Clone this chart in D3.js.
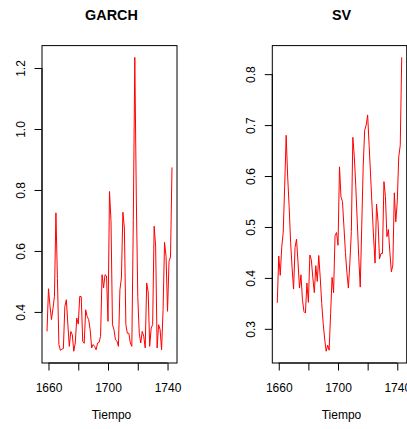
<!DOCTYPE html>
<html>
<head>
<meta charset="utf-8">
<script src="https://cdn.jsdelivr.net/npm/d3@7"></script>
<style>
  html, body { margin: 0; padding: 0; background: #fff; }
  svg { display: block; }
  text { font-family: "Liberation Sans", Arial, Helvetica, sans-serif; fill: #000; }
</style>
</head>
<body>
<svg id="chart" width="407" height="429"></svg>
<script>
// ---------------- DATA ----------------
const startYear = 1659;
const endYear = 1743;
const years = d3.range(startYear, endYear + 1);

const garch = [
  0.336, 0.476, 0.420, 0.375, 0.410, 0.451, 0.725, 0.510, 0.293, 0.274,
  0.278, 0.280, 0.418, 0.440, 0.360, 0.287, 0.336, 0.325, 0.271, 0.298,
  0.380, 0.360, 0.451, 0.450, 0.304, 0.297, 0.407, 0.385, 0.375, 0.342,
  0.282, 0.293, 0.287, 0.276, 0.298, 0.300, 0.320, 0.522, 0.479, 0.522,
  0.518, 0.369, 0.795, 0.700, 0.358, 0.342, 0.309, 0.304, 0.287, 0.473,
  0.511, 0.727, 0.675, 0.358, 0.330, 0.330, 0.298, 0.287, 0.700, 1.235,
  0.780, 0.450, 0.330, 0.298, 0.336, 0.320, 0.282, 0.495, 0.465, 0.287,
  0.347, 0.358, 0.681, 0.616, 0.282, 0.358, 0.342, 0.276, 0.407, 0.628,
  0.582, 0.402, 0.566, 0.580, 0.874
];

const sv = [
  0.351, 0.443, 0.405, 0.460, 0.490, 0.580, 0.680, 0.600, 0.540, 0.470,
  0.420, 0.378, 0.460, 0.476, 0.430, 0.380, 0.406, 0.357, 0.334, 0.331,
  0.390, 0.352, 0.445, 0.435, 0.400, 0.371, 0.424, 0.393, 0.444, 0.400,
  0.350, 0.310, 0.280, 0.256, 0.268, 0.258, 0.330, 0.401, 0.371, 0.483,
  0.489, 0.464, 0.618, 0.559, 0.550, 0.500, 0.450, 0.410, 0.380, 0.430,
  0.491, 0.676, 0.638, 0.580, 0.510, 0.440, 0.382, 0.500, 0.620, 0.690,
  0.700, 0.720, 0.660, 0.600, 0.540, 0.480, 0.429, 0.545, 0.510, 0.437,
  0.448, 0.448, 0.589, 0.560, 0.481, 0.495, 0.450, 0.412, 0.425, 0.567,
  0.510, 0.550, 0.638, 0.660, 0.833
];

const xTicks = [1660, 1680, 1700, 1720, 1740];
const xTickLabels = ["1660", "", "1700", "", "1740"];
const garchTicks = [0.4, 0.6, 0.8, 1.0, 1.2];
const garchTickLabels = ["0.4", "0.6", "0.8", "1.0", "1.2"];
const svTicks = [0.3, 0.4, 0.5, 0.6, 0.7, 0.8];
const svTickLabels = ["0.3", "0.4", "0.5", "0.6", "0.7", "0.8"];
const titles = ["GARCH", "SV"];
const xLabel = "Tiempo";

// ---------------- LAYOUT ----------------
const panels = [
  { title: titles[0], values: garch, ticks: garchTicks, labels: garchTickLabels, x0: 42, x1: 177 },
  { title: titles[1], values: sv, ticks: svTicks, labels: svTickLabels, x0: 272.3, x1: 406.7 }
];
const yTop = 45.6, yBottom = 363;
const lineColor = "#ff0000";

const svg = d3.select("#chart");

// R-style 4% axis extension
function pad(ext) {
  const d = (ext[1] - ext[0]) * 0.04;
  return [ext[0] - d, ext[1] + d];
}

panels.forEach(p => {
  const x = d3.scaleLinear().domain(pad(d3.extent(years))).range([p.x0, p.x1]);
  const y = d3.scaleLinear().domain(pad(d3.extent(p.values))).range([yBottom, yTop]);

  const g = svg.append("g");

  // line
  const line = d3.line()
    .x((d, i) => x(years[i]))
    .y(d => y(d));
  g.append("path")
    .datum(p.values)
    .attr("fill", "none")
    .attr("stroke", lineColor)
    .attr("stroke-width", 1)
    .attr("stroke-linejoin", "round")
    .attr("d", line);

  // box
  g.append("rect")
    .attr("x", p.x0)
    .attr("y", yTop)
    .attr("width", p.x1 - p.x0)
    .attr("height", yBottom - yTop)
    .attr("fill", "none")
    .attr("stroke", "#000")
    .attr("stroke-width", 1);

  // x axis
  const xa = g.append("g")
    .attr("transform", `translate(0,${yBottom})`)
    .call(d3.axisBottom(x).tickValues(xTicks).tickSize(7.5)
      .tickFormat((d, i) => xTickLabels[i]));
  xa.select(".domain")
    .attr("d", `M${x(xTicks[0])},0H${x(xTicks[xTicks.length - 1])}`)
    .attr("stroke", "#000");
  xa.selectAll(".tick line").attr("stroke", "#000");
  xa.selectAll(".tick text")
    .attr("y", 29.3).attr("dy", 0)
    .style("font-size", "12px");

  // y axis
  const ya = g.append("g")
    .attr("transform", `translate(${p.x0},0)`)
    .call(d3.axisLeft(y).tickValues(p.ticks).tickSize(7.5)
      .tickFormat((d, i) => p.labels[i]));
  ya.select(".domain")
    .attr("d", `M0,${y(p.ticks[0])}V${y(p.ticks[p.ticks.length - 1])}`)
    .attr("stroke", "#000");
  ya.selectAll(".tick line").attr("stroke", "#000");
  ya.selectAll(".tick text")
    .attr("transform", "rotate(-90)")
    .attr("x", 0).attr("y", -17.5).attr("dy", 0)
    .attr("text-anchor", "middle")
    .style("font-size", "12px");

  // title
  svg.append("text")
    .attr("x", (p.x0 + p.x1) / 2 + 2)
    .attr("y", 20)
    .attr("text-anchor", "middle")
    .style("font-size", "14.4px")
    .style("font-weight", "bold")
    .text(p.title);

  // x label
  svg.append("text")
    .attr("x", (p.x0 + p.x1) / 2 + 2)
    .attr("y", 419)
    .attr("text-anchor", "middle")
    .style("font-size", "12px")
    .text(xLabel);
});
</script>
</body>
</html>
